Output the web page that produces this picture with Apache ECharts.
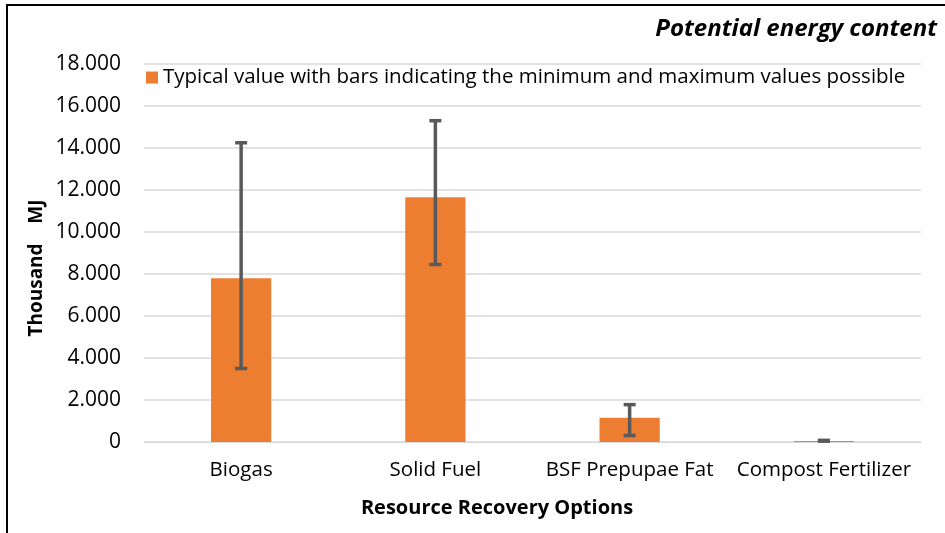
<!DOCTYPE html>
<html>
<head>
<meta charset="utf-8">
<script src="https://cdn.jsdelivr.net/npm/echarts@6/dist/echarts.min.js"></script>
<style>html,body{margin:0;padding:0;background:#fff}#c{width:945px;height:533px}</style>
</head>
<body>
<div id="c"></div>
<script>
const categories = ['Biogas', 'Solid Fuel', 'BSF Prepupae Fat', 'Compost Fertilizer'];
const typicalValues = [7800, 11650, 1150, 50];
const minValues = [3500, 8450, 310, 40];
const maxValues = [14250, 15300, 1780, 80];
const yTickLabels = ['0', '2.000', '4.000', '6.000', '8.000', '10.000', '12.000', '14.000', '16.000', '18.000'];
const seriesName = 'Typical value with bars indicating the minimum and maximum values possible';
const titleText = 'Potential energy content';
const xAxisTitle = 'Resource Recovery Options';
const yAxisTitle = 'Thousand    MJ';

const FONT = 'Open Sans';
const chart = echarts.init(document.getElementById('c'), null, {renderer: 'canvas'});
const errData = categories.map((c, i) => [i, minValues[i], maxValues[i]]);

chart.setOption({
  animation: false,
  backgroundColor: '#fff',
  textStyle: {fontFamily: FONT},
  title: {
    text: titleText, right: 3, top: 12,
    textStyle: {fontFamily: FONT, fontSize: 24, fontWeight: 'bold', fontStyle: 'italic', color: '#000'}
  },
  legend: {
    left: 141, top: 62, icon: 'rect', itemWidth: 12, itemHeight: 12, itemGap: 5,
    textStyle: {fontFamily: FONT, fontSize: 20.5, color: '#000'},
    data: [seriesName]
  },
  grid: {left: 144, right: 24, top: 64, bottom: 91, containLabel: false},
  xAxis: {
    type: 'category', data: categories,
    axisLine: {lineStyle: {color: '#d9d9d9', width: 1}},
    axisTick: {show: false},
    axisLabel: {fontFamily: FONT, fontSize: 20.5, color: '#000', margin: 18, interval: 0, hideOverlap: false}
  },
  yAxis: {
    type: 'value', min: 0, max: 18000, interval: 2000,
    axisLine: {show: false}, axisTick: {show: false},
    splitLine: {lineStyle: {color: '#d9d9d9', width: 1.5}},
    axisLabel: {
      fontFamily: FONT, fontSize: 21, color: '#000', margin: 23,
      formatter: v => yTickLabels[Math.round(v / 2000)]
    }
  },
  graphic: [
    {type: 'rect', shape: {x: 7, y: 5, width: 960, height: 560}, style: {fill: 'none', stroke: '#000', lineWidth: 2}, z: 100},
    {type: 'text', x: 497, y: 508, style: {text: xAxisTitle, textAlign: 'center', textVerticalAlign: 'middle', font: 'bold 20px "' + FONT + '"', fill: '#000'}},
    {type: 'text', x: 37, y: 268, rotation: Math.PI / 2, style: {text: yAxisTitle, textAlign: 'center', textVerticalAlign: 'middle', font: 'bold 19px "' + FONT + '"', fill: '#000'}}
  ],
  series: [
    {
      name: seriesName, type: 'bar', data: typicalValues, barWidth: '31%',
      itemStyle: {color: '#ED7D31'}, z: 2
    },
    {
      type: 'custom', data: errData, z: 5, silent: true,
      renderItem: (params, api) => {
        const x = api.value(0);
        const lo = api.coord([x, api.value(1)]);
        const hi = api.coord([x, api.value(2)]);
        const hw = 6;
        const style = {stroke: '#595959', lineWidth: 3.5, fill: 'none'};
        return {
          type: 'group',
          children: [
            {type: 'line', shape: {x1: lo[0], y1: lo[1], x2: hi[0], y2: hi[1]}, style},
            {type: 'line', shape: {x1: lo[0] - hw, y1: lo[1], x2: lo[0] + hw, y2: lo[1]}, style},
            {type: 'line', shape: {x1: hi[0] - hw, y1: hi[1], x2: hi[0] + hw, y2: hi[1]}, style}
          ]
        };
      }
    }
  ]
});
</script>
</body>
</html>
